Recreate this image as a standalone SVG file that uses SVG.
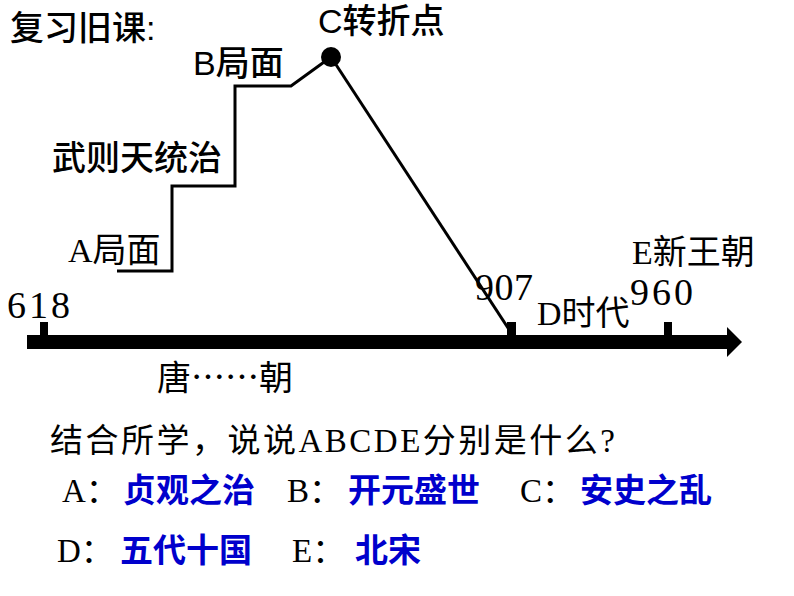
<svg xmlns="http://www.w3.org/2000/svg" width="794" height="596" viewBox="0 0 794 596">
<style>
.h{font-family:"Liberation Sans","Noto Sans CJK SC",sans-serif;font-size:34px;font-weight:500;fill:#000}
.s{font-family:"Liberation Serif","Noto Sans CJK SC",serif;font-size:34px;fill:#000}
.n{font-family:"Liberation Serif",serif;font-size:38px;fill:#000}
.q{font-family:"Liberation Serif","Noto Sans CJK SC",serif;font-size:33px;fill:#000}
.b{font-family:"Noto Sans CJK SC",sans-serif;font-size:33px;font-weight:bold;fill:#0000CC}
.cjk{font-family:"Noto Sans CJK SC",sans-serif}
.ln{fill:none;stroke:#000;stroke-width:3}
</style>
<rect width="794" height="596" fill="#fff"/>
<g id="connectors">
<polyline class="ln" points="117,271 172,271 172,186 235,186 235,86 291,86 331,57"/>
<line class="ln" x1="331" y1="57" x2="510" y2="331"/>
<rect x="27" y="335" width="703" height="14" fill="#000"/>
<polygon points="727,327 742,342 727,357" fill="#000"/>
<rect x="40" y="322" width="8" height="14" fill="#000"/>
<rect x="507" y="322" width="9" height="14" fill="#000"/>
<rect x="664" y="322" width="8" height="14" fill="#000"/>
</g>
<g id="title"><text class="h" x="10" y="40">复习旧课:</text></g>
<g id="pointC"><circle cx="331" cy="57" r="10" fill="#000"/><text class="h" x="318" y="33">C转折点</text></g>
<g id="labelB"><text class="h" x="193" y="75">B局面</text></g>
<g id="labelWu"><text class="h" x="52" y="170">武则天统治</text></g>
<g id="labelA"><text class="s" x="68" y="262">A局面</text></g>
<g id="y618"><text class="n" x="7" y="318" textLength="63">618</text></g>
<g id="tang"><text class="s" x="157" y="390">唐<tspan class="cjk">……</tspan>朝</text></g>
<g id="y907"><text class="n" x="475" y="300" textLength="58">907</text></g>
<g id="labelD"><text class="s" x="537" y="325">D时代</text></g>
<g id="y960"><text class="n" x="630" y="305" textLength="63">960</text></g>
<g id="labelE"><text class="s" x="632" y="264">E新王朝</text></g>
<g id="question"><text class="q" x="50" y="452" textLength="565">结合所学，说说ABCDE分别是什么?</text></g>
<g id="answers">
<text class="q" x="62" y="502">A：</text><text class="b" x="123" y="502">贞观之治</text>
<text class="q" x="287" y="502">B：</text><text class="b" x="348" y="502">开元盛世</text>
<text class="q" x="520" y="502">C：</text><text class="b" x="580" y="502">安史之乱</text>
<text class="q" x="57" y="562">D：</text><text class="b" x="120" y="562">五代十国</text>
<text class="q" x="292" y="562">E：</text><text class="b" x="355" y="562">北宋</text>
</g>
</svg>
